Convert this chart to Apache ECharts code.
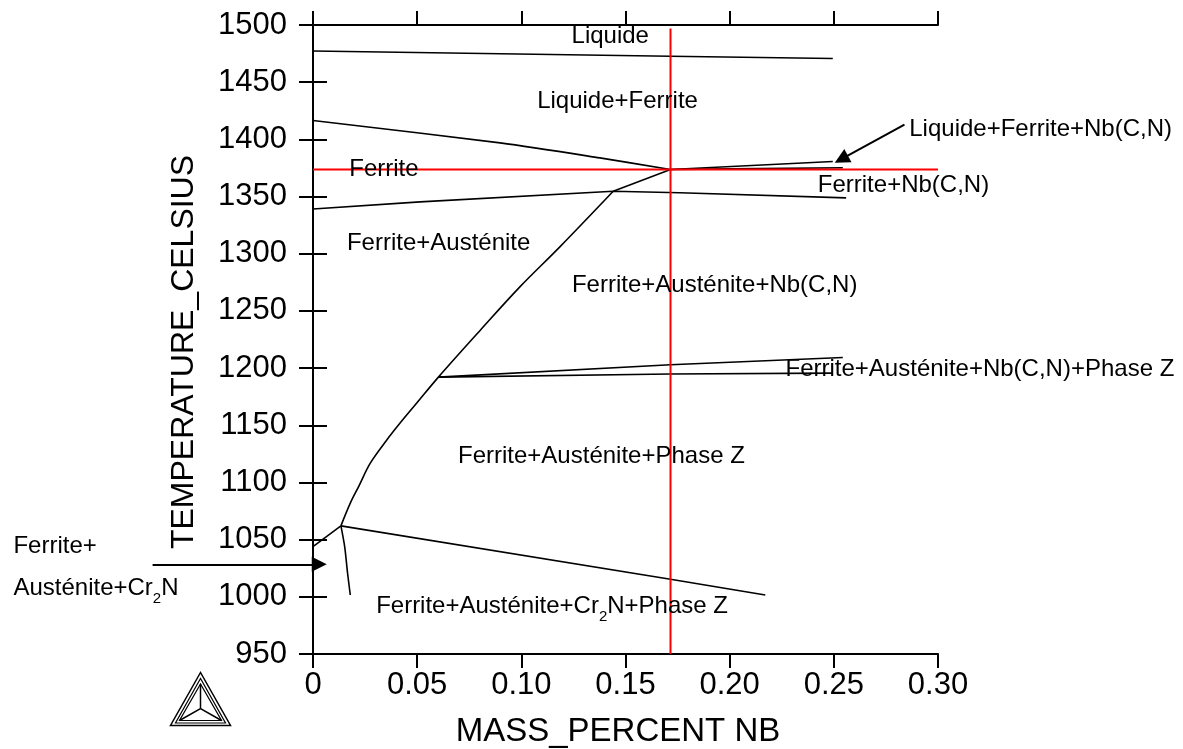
<!DOCTYPE html>
<html><head><meta charset="utf-8">
<script src="https://cdn.jsdelivr.net/npm/echarts@6/dist/echarts.min.js"></script>
<style>html,body{margin:0;padding:0;background:#fff}#c{width:1183px;height:749px}</style>
</head><body><div id="c"></div>
<script>
// ---- axis ticks ----
const xTickLabels = ['0', '0.05', '0.10', '0.15', '0.20', '0.25', '0.30'];
const yTickValues = [950, 1000, 1050, 1100, 1150, 1200, 1250, 1300, 1350, 1400, 1450, 1500];

// ---- phase boundaries [mass% Nb, T °C] ----
const liquidusTop = [[0, 1477.2], [0.1716, 1472.7], [0.2495, 1470.7]];
const ferriteSolidus = [[0, 1416.5], [0.0898, 1396.9], [0.1377, 1383.8], [0.1716, 1373.6]];
const ferriteAustTop = [[0, 1339.1], [0.0514, 1345.3], [0.1441, 1354.6], [0.176, 1353.3], [0.2559, 1348.8]];
const austeniteLeft = [[0, 1043.9], [0.0134, 1062.0]];
const austeniteCurve = [[0.0134, 1062.0], [0.0179, 1081.9], [0.0219, 1096.4],
  [0.0275, 1116.9], [0.0355, 1137.3], [0.0418, 1151.9], [0.0498, 1169.4], [0.0602, 1192.1],
  [0.08, 1232.5], [0.0993, 1271.0], [0.1185, 1306.0], [0.1441, 1354.6]];
const austeniteTop = [[0.1441, 1354.6], [0.1716, 1373.6]];
const nbcnLiquidUpper = [[0.1716, 1373.6], [0.2495, 1380.6]];
const nbcnLiquidLower = [[0.1716, 1373.6], [0.2, 1374.2], [0.2543, 1375.2]];
const phaseZUpper = [[0.0602, 1192.1], [0.1716, 1202.9], [0.2543, 1209.3]];
const phaseZLower = [[0.0602, 1192.1], [0.1716, 1194.8], [0.2495, 1195.6]];
const cr2nUpper = [[0.0134, 1062.0], [0.1716, 1015.3], [0.2171, 1001.6]];
const cr2nSteep = [[0.0134, 1062.0], [0.0152, 1043.9], [0.0166, 1020.6], [0.0179, 1001.6]];

// ---- red cursor lines ----
const cursorX = 0.1716;
const cursorT = 1373.6;
const redVertical = [[cursorX, 950], [cursorX, 1497]];
const redHorizontal = [[0, cursorT], [0.3, cursorT]];

// ---- arrows [from, to] ----
const arrowUpper = [[0.2839, 1412.9], [0.2536, 1382.7]];
const arrowLower = [[-0.0770, 1028.4], [0.0030, 1028.4]];

// ---- region labels ----
const labelTexts = ['Liquide', 'Liquide+Ferrite', 'Ferrite', 'Ferrite+Austénite', 'Liquide+Ferrite+Nb(C,N)',
  'Ferrite+Nb(C,N)', 'Ferrite+Austénite+Nb(C,N)', 'Ferrite+Austénite+Nb(C,N)+Phase Z',
  'Ferrite+Austénite+Phase Z', 'Ferrite+Austénite+Cr{s|2}N+Phase Z', 'Ferrite+', 'Austénite+Cr{s|2}N'];
const labelX = [0.1241, 0.1076, 0.0174, 0.0163, 0.2862, 0.2423, 0.1243, 0.2268, 0.0696, 0.0303, -0.1438, -0.1438];
const labelY = [1490.2, 1433.3, 1373.6, 1309.4, 1408.6, 1359.6, 1272.0, 1199.1, 1122.7, 991.4, 1043.9, 1007.5];

const FONT = 'Liberation Sans, Arial, sans-serif';
const chart = echarts.init(document.getElementById('c'));

function blackLine(data, smooth) {
  return { type: 'line', data: data, showSymbol: false, symbol: 'none', silent: true, smooth: smooth || false,
    lineStyle: { color: '#000', width: 1.6 }, z: 3 };
}
function redLine(data) {
  return { type: 'line', data: data, showSymbol: false, symbol: 'none', silent: true,
    lineStyle: { color: '#ff0000', width: 2 }, z: 4 };
}
const axisCommon = {
  type: 'value',
  axisLine: { show: true, lineStyle: { color: '#000', width: 2 } },
  axisTick: { show: true, inside: false, length: 14, lineStyle: { color: '#000', width: 2 } },
  splitLine: { show: false }
};

const option = {
  animation: false,
  backgroundColor: '#fff',
  grid: { left: 313, right: 245, top: 25, bottom: 95, containLabel: false },
  xAxis: [
    Object.assign({}, axisCommon, { position: 'bottom', min: 0, max: 0.3, interval: 0.05,
      axisLabel: { show: true, margin: 16, color: '#000', fontSize: 31, fontFamily: FONT,
        formatter: v => xTickLabels[Math.round(v / 0.05)] } }),
    Object.assign({}, axisCommon, { position: 'top', min: 0, max: 0.3, interval: 0.05,
      axisLabel: { show: false } })
  ],
  yAxis: [
    Object.assign({}, axisCommon, { position: 'left', min: yTickValues[0], max: yTickValues[yTickValues.length - 1], interval: 50,
      axisLabel: { show: true, margin: 26, color: '#000', fontSize: 31, fontFamily: FONT,
        formatter: v => String(v) } }),
    Object.assign({}, axisCommon, { position: 'right', min: yTickValues[0], max: yTickValues[yTickValues.length - 1], interval: 50,
      axisLabel: { show: false } })
  ],
  series: [
    blackLine(liquidusTop), blackLine(ferriteSolidus, 0.3), blackLine(ferriteAustTop),
    blackLine(austeniteLeft), blackLine(austeniteCurve, 0.35), blackLine(austeniteTop),
    blackLine(nbcnLiquidUpper), blackLine(nbcnLiquidLower), blackLine(phaseZUpper), blackLine(phaseZLower),
    blackLine(cr2nUpper), blackLine(cr2nSteep, 0.3),
    redLine(redVertical), redLine(redHorizontal),
    {
      type: 'lines', coordinateSystem: 'cartesian2d', clip: false, silent: true, z: 5,
      symbol: ['none', 'triangle'], symbolSize: 15,
      lineStyle: { color: '#000', width: 2, opacity: 1, curveness: 0 },
      data: [{ coords: arrowUpper }, { coords: arrowLower }]
    },
    {
      type: 'scatter', clip: false, silent: true, symbolSize: 0, z: 6,
      itemStyle: { opacity: 1, color: '#000' },
      data: labelTexts.map((t, i) => ({ value: [labelX[i], labelY[i]], name: t })),
      label: { show: true, position: 'right', distance: 0, color: '#000', opacity: 1, fontSize: 24, fontFamily: FONT,
        textBorderWidth: 0,
        formatter: p => p.name,
        rich: { s: { fontSize: 15, fontFamily: FONT, color: '#000', verticalAlign: 'bottom', padding: [0, 0, -6, 0] } } }
    }
  ],
  graphic: [
    { type: 'text', x: 184, y: 352, rotation: Math.PI / 2, silent: true,
      style: { text: 'TEMPERATURE_CELSIUS', fill: '#000', font: '32px ' + FONT, align: 'center', verticalAlign: 'middle' } },
    { type: 'text', x: 618, y: 732, silent: true,
      style: { text: 'MASS_PERCENT NB', fill: '#000', font: '33px ' + FONT, align: 'center', verticalAlign: 'middle' } },
    // Thermo-Calc logo
    { type: 'polygon', silent: true, shape: { points: [[200.5, 672.5], [170.5, 725.5], [230.5, 725.5]] },
      style: { fill: 'none', stroke: '#000', lineWidth: 1.5 } },
    { type: 'polygon', silent: true, shape: { points: [[200.5, 678.5], [175.5, 723], [225.5, 723]] },
      style: { fill: 'none', stroke: '#000', lineWidth: 1.2 } },
    { type: 'polygon', silent: true, shape: { points: [[200.5, 684], [179.5, 720.5], [221.5, 720.5]] },
      style: { fill: 'none', stroke: '#000', lineWidth: 1.2 } },
    { type: 'polyline', silent: true, shape: { points: [[200.5, 684], [200.5, 708.5]] },
      style: { fill: 'none', stroke: '#000', lineWidth: 1.5 } },
    { type: 'polyline', silent: true, shape: { points: [[179.5, 720.5], [200.5, 708.5], [221.5, 720.5]] },
      style: { fill: 'none', stroke: '#000', lineWidth: 1.5 } }
  ]
};
chart.setOption(option);
</script></body></html>
